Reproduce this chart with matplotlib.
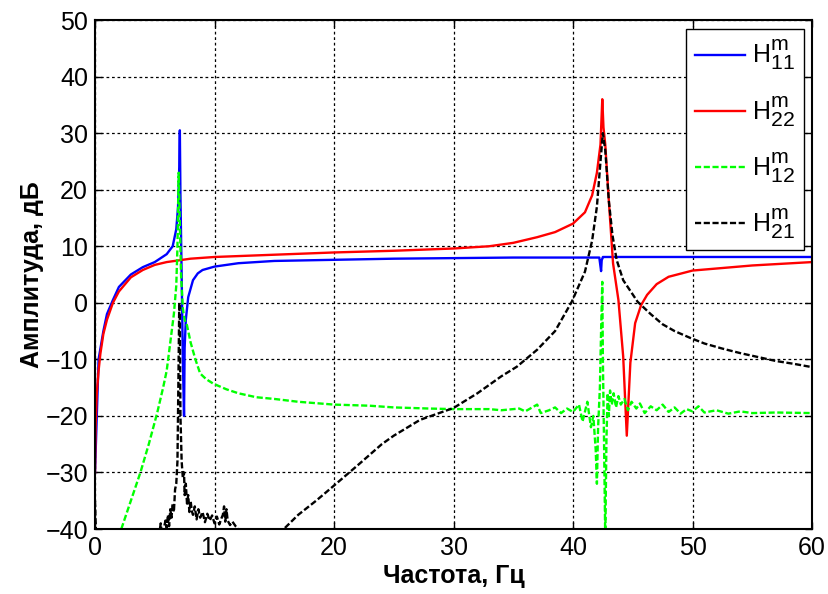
import matplotlib
matplotlib.use("Agg")
import matplotlib.pyplot as plt

try:
    # MATLAB draws sub/superscripts almost at full size
    import matplotlib._mathtext as _mt
    _mt.SHRINK_FACTOR = 0.85
except Exception:
    pass

plt.rcParams["font.family"] = ["Liberation Sans", "DejaVu Sans"]
plt.rcParams["mathtext.default"] = "regular"

# H11 (blue, solid)
h11_f = [0, 0.3, 0.7, 1.0, 1.5, 2, 3, 4, 5, 6, 6.5, 6.8, 6.95, 7.05, 7.1, 7.15, 7.25, 7.35, 7.45,
         7.5, 7.6, 7.8, 8.2, 8.6, 9, 10, 12, 15, 20, 25, 30, 35, 40, 42.2, 42.35, 42.4, 42.5, 42.6,
         43.5, 45, 50, 60]
h11_db = [-30, -10, -5, -2, 0.5, 2.8, 5, 6.3, 7.2, 8.6, 10, 13, 17, 24, 30.5, 19, 5, -10, -20,
          -8, -3, 1, 4, 5.2, 5.8, 6.4, 7, 7.4, 7.6, 7.8, 7.9, 8, 8, 8, 5.6, 7.5, 8.1, 8.1,
          8.1, 8.1, 8.1, 8.1]

# H22 (red, solid)
h22_f = [0, 0.05, 0.15, 0.3, 0.45, 0.7, 1.0, 1.5, 2, 3, 4, 5, 6, 7, 8, 10, 15, 20, 25, 30, 33, 35,
         37, 38.5, 40, 41, 41.6, 42, 42.3, 42.45, 42.55, 42.7, 43.0, 43.35, 43.8, 44.2, 44.5, 44.8,
         45.2, 45.7, 46.2, 47, 48, 50, 55, 60]
h22_db = [-30, -22, -16, -12, -9, -5.5, -3, 0, 2, 4.5, 5.8, 6.7, 7.2, 7.5, 7.8, 8.1, 8.5, 8.9, 9.2,
          9.6, 10, 10.6, 11.6, 12.5, 14, 16, 19, 23, 28, 36, 31, 28, 18, 7, 0.5, -9.5, -23.5, -10.6,
          -3.6, -0.4, 1.4, 3.3, 4.6, 5.7, 6.6, 7.2]

# H12 (green, dashed)
h12_f = [2.2, 3, 3.8, 4.5, 5.2, 5.7, 6.0, 6.3, 6.6, 6.8, 6.9, 7.0, 7.1, 7.2, 7.35, 7.5, 7.7, 8.0,
         8.4, 8.8, 9.3, 9.9, 11, 12, 13.5, 15, 17, 20, 23, 25, 28, 30, 33, 34, 35.5, 36, 37.0, 37.3,
         38, 38.5, 39, 39.5, 40, 40.5, 40.8, 41.2, 41.5, 41.7, 41.9, 42.0, 42.1, 42.25, 42.35, 42.45,
         42.5, 42.6, 42.7, 42.8, 42.9, 43.0, 43.1, 43.25, 43.4, 43.6, 43.8, 44.0, 44.3, 44.6, 44.9,
         45.3, 45.6, 46, 46.5, 47, 47.5, 48, 48.5, 49, 49.5, 50, 50.5, 51, 52, 53, 54, 55, 57, 60]
h12_db = [-40, -35, -30, -25, -19.5, -15, -12, -7, -2, 3, 10, 23, 14, 5, -1, -3, -4, -7,
          -10, -12.5, -13.5, -14.3, -15.3, -16, -16.7, -17, -17.5, -18, -18.2, -18.5, -18.7, -18.8,
          -18.8, -19, -18.7, -19.2, -18, -19.5, -19, -18.5, -19.5, -18.7, -19.3, -18, -21, -17.5,
          -22, -20, -26, -32, -22, -15, -5, 3.7, -10, -25, -42, -24, -16, -20, -15.5, -18, -16,
          -18.5, -16.5, -18, -17, -19, -17.5, -18.7, -17.8, -19.5, -18.3, -19, -18, -19.3, -18.5,
          -19.6, -18.8, -19.2, -18.3, -19.4, -19, -19.6, -19.2, -19.5, -19.4, -19.5]

# H21 (black, dashed)
h21_f = [0, 0.1, 5.3, 5.5, 5.6, 5.7, 5.9, 6.0, 6.1, 6.2, 6.3, 6.4, 6.5, 6.6, 6.7, 6.8, 6.9, 7.0,
         7.05, 7.1, 7.15, 7.25, 7.35, 7.45, 7.5, 7.6, 7.7, 7.8, 7.9, 8.0, 8.1, 8.2, 8.35, 8.5, 8.65,
         8.8, 9.0, 9.2, 9.4, 9.6, 9.8, 10, 10.2, 10.4, 10.6, 10.7, 10.8, 10.9, 11.0, 11.1, 11.3,
         11.5, 11.8, 12, 12.3, 15, 15.8, 17, 18.5, 19.9, 22, 24, 25, 27.2, 30, 32, 34, 35.3, 37,
         38.5, 39.9, 41, 41.6, 42, 42.3, 42.5, 42.7, 43, 43.3, 43.65, 44.2, 45.4, 46.5, 47.5, 48.5,
         49.8, 51, 52.5, 54, 55.5, 57, 58.5, 59.8]
h21_db = [-35, -42, -42, -39, -41, -40.5, -38.5, -39.8, -37.5, -39.5, -36.5, -38, -35.5, -37, -33,
          -32, -28, -10, 0, -3, -20, -28, -31, -30, -34, -32, -35.5, -34, -37, -35, -36.8, -37.5,
          -36, -38.3, -36.5, -38, -37, -38.8, -37.3, -38.5, -37.6, -39, -37.8, -39.2, -38, -37.5,
          -36, -38.7, -36.5, -38.5, -39.3, -38.7, -39.6, -40, -42, -42, -40, -37.5, -35, -32.5,
          -28.7, -25, -23.5, -20.7, -18.6, -16, -13, -11.3, -8.3, -5, 0.2, 5.5, 11, 17, 25, 30,
          27, 18, 12, 7.6, 4, 0.2, -2, -3.8, -5, -6.2, -7.2, -8.1, -8.9, -9.6, -10.3, -10.8,
          -11.3]

labels = [r"$H^m_{11}$", r"$H^m_{22}$", r"$H^m_{12}$", r"$H^m_{21}$"]

fig = plt.figure(figsize=(8.29, 5.94), dpi=100)
ax = fig.add_axes([0.1146, 0.1094, 0.8649, 0.8569])

dash = (0, (2.6, 1.1))
ax.plot(h11_f, h11_db, color="#0000ff", lw=1.7, label=labels[0])
ax.plot(h22_f, h22_db, color="#ff0000", lw=1.7, label=labels[1])
ax.plot(h12_f, h12_db, color="#00ff00", lw=1.7, ls=dash, label=labels[2])
ax.plot(h21_f, h21_db, color="black", lw=1.7, ls=dash, label=labels[3])

ax.set_xlim(0, 60)
ax.set_ylim(-40, 50)
ax.set_xticks(range(0, 61, 10))
ax.set_yticks(range(-40, 51, 10))
ax.grid(True, color="black", ls=(0, (2.2, 2.2)), lw=0.9)
ax.tick_params(direction="in", labelsize=18, length=5, width=1, top=True, right=True, pad=5)
for s in ax.spines.values():
    s.set_linewidth(1.5)

ax.set_xlabel("Частота, Гц", fontsize=18, fontweight="bold", labelpad=3)
ax.set_ylabel("Амплитуда, дБ", fontsize=18, fontweight="bold", labelpad=1)

leg = ax.legend(loc="upper right", bbox_to_anchor=(0.989, 0.982), borderaxespad=0,
                fontsize=18, handlelength=2.0, handletextpad=0.3, borderpad=0.35,
                labelspacing=0.88, fancybox=False, framealpha=1, edgecolor="black")
leg.get_frame().set_linewidth(1)

fig.savefig("out.png", dpi=100)
